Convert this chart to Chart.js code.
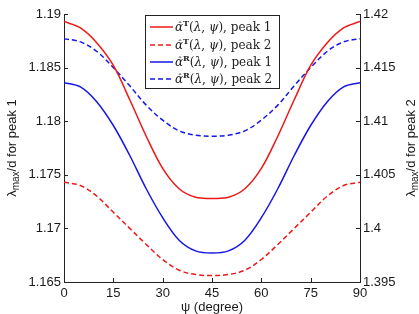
<!DOCTYPE html>
<html>
<head>
<meta charset="utf-8">
<script src="https://cdn.jsdelivr.net/npm/chart.js@4"></script>
<style>
  html, body { margin: 0; padding: 0; background: #fff; }
  canvas { display: block; }
</style>
</head>
<body>
<canvas id="chart" width="419" height="314"></canvas>
<script>
// values, psi in degrees
const psi = [0, 5, 10, 15, 20, 25, 30, 35, 40, 45, 50, 55, 60, 65, 70, 75, 80, 85, 90];
const alphaT_peak1 = [1.1893, 1.1887, 1.1873, 1.1852, 1.1820, 1.1786, 1.1756, 1.1737, 1.1729, 1.1728,
                      1.1729, 1.1737, 1.1756, 1.1786, 1.1820, 1.1852, 1.1873, 1.1887, 1.1893];
const alphaT_peak2 = [1.4043, 1.4040, 1.4030, 1.4015, 1.4000, 1.3985, 1.3971, 1.3961, 1.3957, 1.3956,
                      1.3957, 1.3961, 1.3971, 1.3985, 1.4000, 1.4015, 1.4030, 1.4040, 1.4043];
const alphaR_peak1 = [1.1836, 1.1832, 1.1818, 1.1796, 1.1768, 1.1737, 1.1710, 1.1689, 1.1679, 1.1677,
                      1.1679, 1.1689, 1.1710, 1.1737, 1.1768, 1.1796, 1.1818, 1.1832, 1.1836];
const alphaR_peak2 = [1.4177, 1.4174, 1.4165, 1.4150, 1.4133, 1.4115, 1.4101, 1.4091, 1.4087, 1.4086,
                      1.4087, 1.4091, 1.4101, 1.4115, 1.4133, 1.4150, 1.4165, 1.4174, 1.4177];

const psiTicks = [0, 15, 30, 45, 60, 75, 90];
const leftTicks = [1.165, 1.17, 1.175, 1.18, 1.185, 1.19];
const rightTicks = [1.395, 1.4, 1.405, 1.41, 1.415, 1.42];

const RED = 'rgb(238,24,24)';
const BLUE = 'rgb(22,22,230)';
const SANS = '"Liberation Sans", Arial, sans-serif';
const SERIF = '"DejaVu Serif", "Liberation Serif", serif';

const toPts = arr => psi.map((x, i) => ({ x: x, y: arr[i] }));

const series = [
    { sup: 'T', peak: 1, data: alphaT_peak1, color: RED, dash: [], axis: 'y' },
    { sup: 'T', peak: 2, data: alphaT_peak2, color: RED, dash: [5, 3], axis: 'y2' },
    { sup: 'R', peak: 1, data: alphaR_peak1, color: BLUE, dash: [], axis: 'y' },
    { sup: 'R', peak: 2, data: alphaR_peak2, color: BLUE, dash: [5, 3], axis: 'y2' },
];

// draw a run of text pieces with their own fonts / offsets
function drawRich(ctx, x, y, segs) {
    segs.forEach(s => {
        ctx.font = s.font;
        ctx.fillText(s.t, x, y + (s.dy || 0));
        x += ctx.measureText(s.t).width;
    });
    return x;
}
function richWidth(ctx, segs) {
    let w = 0;
    segs.forEach(s => { ctx.font = s.font; w += ctx.measureText(s.t).width; });
    return w;
}

// inward tick marks, axis titles and the boxed legend
const decorations = {
    id: 'decorations',
    afterDraw(chart) {
        const ctx = chart.ctx;
        const a = chart.chartArea;
        const sx = chart.scales.x, sy = chart.scales.y, sy2 = chart.scales.y2;
        ctx.save();
        ctx.strokeStyle = '#222';
        ctx.lineWidth = 1;
        ctx.beginPath();
        psiTicks.forEach(v => {
            const px = Math.round(sx.getPixelForValue(v)) + 0.5;
            ctx.moveTo(px, a.bottom); ctx.lineTo(px, a.bottom - 4);
        });
        leftTicks.forEach(v => {
            const py = Math.round(sy.getPixelForValue(v)) + 0.5;
            ctx.moveTo(a.left, py); ctx.lineTo(a.left + 4, py);
        });
        rightTicks.forEach(v => {
            const py = Math.round(sy2.getPixelForValue(v)) + 0.5;
            ctx.moveTo(a.right, py); ctx.lineTo(a.right - 4, py);
        });
        ctx.stroke();

        // axis titles
        ctx.fillStyle = '#1a1a1a';
        ctx.textBaseline = 'alphabetic';
        ctx.textAlign = 'left';
        ctx.font = '13px ' + SANS;
        const xt = 'ψ (degree)';
        ctx.fillText(xt, (a.left + a.right) / 2 - ctx.measureText(xt).width / 2, 311);

        const ytitle = n => [
            { t: 'λ', font: '13px ' + SANS },
            { t: 'max', font: '10px ' + SANS, dy: 3 },
            { t: '/d for peak ' + n, font: '13px ' + SANS },
        ];
        [[16, 1], [415, 2]].forEach(([cx, n]) => {
            const segs = ytitle(n);
            const w = richWidth(ctx, segs);
            ctx.save();
            ctx.translate(cx, (a.top + a.bottom) / 2);
            ctx.rotate(-Math.PI / 2);
            drawRich(ctx, -w / 2, 0, segs);
            ctx.restore();
        });

        // legend box
        const bx = 145.5, by = 15.5, bw = 134, bh = 73;
        ctx.fillStyle = '#fff';
        ctx.fillRect(bx, by, bw, bh);
        ctx.strokeStyle = '#222';
        ctx.strokeRect(bx, by, bw, bh);
        const rows = [27, 45, 62, 79];
        series.forEach((s, i) => {
            const y = rows[i];
            ctx.strokeStyle = s.color;
            ctx.lineWidth = 1.5;
            ctx.setLineDash(s.dash);
            ctx.beginPath();
            ctx.moveTo(150, y); ctx.lineTo(173, y);
            ctx.stroke();
            ctx.setLineDash([]);

            ctx.fillStyle = '#222';
            const base = y + 4;
            let x = 175;
            ctx.font = 'italic 12px ' + SERIF;
            const aw = ctx.measureText('α').width;
            ctx.fillText('α', x, base);
            ctx.textAlign = 'center';
            ctx.font = '10px ' + SERIF;
            ctx.fillText('ˆ', x + aw / 2 + 1, base - 2);
            ctx.textAlign = 'left';
            x += aw;
            drawRich(ctx, x, base, [
                { t: s.sup, font: 'bold 8px ' + SERIF, dy: -5 },
                { t: '(', font: '12px ' + SERIF },
                { t: 'λ', font: 'italic 12px ' + SERIF },
                { t: ', ', font: '12px ' + SERIF },
                { t: 'ψ', font: 'italic 12px ' + SERIF },
                { t: '), peak ' + s.peak, font: '12px ' + SERIF },
            ]);
        });
        ctx.restore();
    }
};

const tickFont = { family: SANS, size: 13 };
const fmt = v => String(+Number(v).toFixed(3));

new Chart(document.getElementById('chart'), {
    type: 'line',
    data: {
        datasets: series.map(s => ({
            label: 'alpha' + s.sup + ' peak ' + s.peak,
            data: toPts(s.data),
            yAxisID: s.axis,
            borderColor: s.color,
            borderWidth: 1.5,
            borderDash: s.dash,
            pointRadius: 0,
            fill: false,
            tension: 0.35,
        }))
    },
    options: {
        responsive: false,
        animation: false,
        layout: { padding: { top: 14, left: 0, right: 0, bottom: 0 } },
        plugins: { legend: { display: false }, tooltip: { enabled: false } },
        scales: {
            x: {
                type: 'linear', min: 0, max: 90,
                afterBuildTicks: s => { s.ticks = psiTicks.map(v => ({ value: v })); },
                afterFit: s => { s.height = 32; },
                ticks: { font: tickFont, color: '#1a1a1a', padding: 4, maxRotation: 0, autoSkip: false },
                grid: { drawOnChartArea: false, drawTicks: false },
                border: { color: '#222', width: 1 },
            },
            y: {
                type: 'linear', position: 'left', min: 1.165, max: 1.19,
                afterBuildTicks: s => { s.ticks = leftTicks.map(v => ({ value: v })); },
                afterFit: s => { s.width = 64; },
                ticks: { font: tickFont, color: '#1a1a1a', padding: 3, callback: fmt },
                grid: { drawOnChartArea: false, drawTicks: false },
                border: { color: '#222', width: 1 },
            },
            y2: {
                type: 'linear', position: 'right', min: 1.395, max: 1.42,
                afterBuildTicks: s => { s.ticks = rightTicks.map(v => ({ value: v })); },
                afterFit: s => { s.width = 59; },
                ticks: { font: tickFont, color: '#1a1a1a', padding: 3, callback: fmt },
                grid: { drawOnChartArea: false, drawTicks: false },
                border: { color: '#222', width: 1 },
            },
        }
    },
    plugins: [decorations]
});
</script>
</body>
</html>
